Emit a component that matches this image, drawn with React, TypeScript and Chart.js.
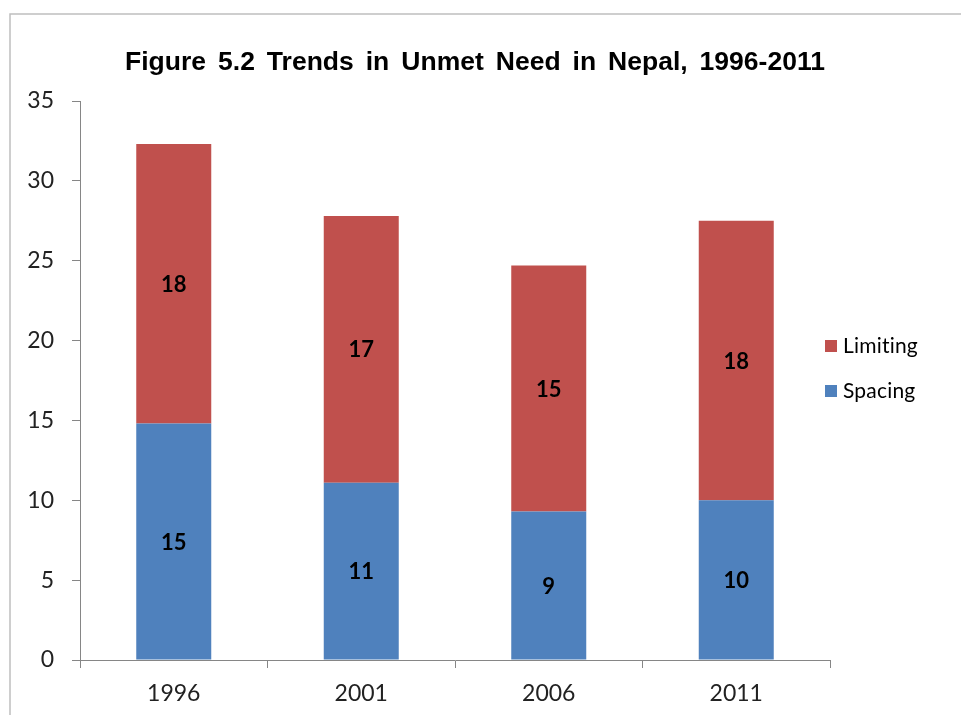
import React, { useEffect, useRef } from "react";
import { Chart, registerables } from "chart.js";

Chart.register(...registerables);

const categories = ["1996", "2001", "2006", "2011"];
const spacing = [14.8, 11.1, 9.3, 10.0];
const limiting = [17.5, 16.7, 15.4, 17.5];
const yTicks = [0, 5, 10, 15, 20, 25, 30, 35];
const titleText = "Figure 5.2 Trends in Unmet Need in Nepal, 1996-2011";

const BLUE = "#4F81BD";
const RED = "#C0504D";
const AXIS = "#868686";
const TICK_FONT = "Lato, 'Open Sans', sans-serif";

const decorPlugin = {
  id: "decor",
  beforeDraw(chart: any) {
    const ctx = chart.ctx;
    ctx.save();
    ctx.fillStyle = "#ffffff";
    ctx.fillRect(0, 0, chart.width, chart.height);
    ctx.strokeStyle = "#BFBFBF";
    ctx.lineWidth = 1.5;
    ctx.beginPath();
    ctx.moveTo(10, chart.height);
    ctx.lineTo(10, 14);
    ctx.lineTo(chart.width, 14);
    ctx.stroke();
    ctx.restore();
  },
  afterDraw(chart: any) {
    const ctx = chart.ctx;
    ctx.save();
    // title
    ctx.fillStyle = "#000";
    ctx.font = "bold 26px 'Liberation Sans', Arial, sans-serif";
    ctx.textAlign = "left";
    ctx.textBaseline = "middle";
    const sx = 1.02;
    const targetW = 700 / sx;
    const w0 = ctx.measureText(titleText).width;
    const gaps = titleText.split(" ").length - 1;
    const extra = Math.max(0, (targetW - w0) / gaps);
    (ctx as any).wordSpacing = extra.toFixed(2) + "px";
    const w1 = ctx.measureText(titleText).width;
    ctx.save();
    ctx.translate(475 - (w1 * sx) / 2, 63);
    ctx.scale(sx, 1);
    ctx.fillText(titleText, 0, 0);
    ctx.restore();
    (ctx as any).wordSpacing = "0px";
    // legend
    const items = [
      { label: chart.data.datasets[1].label, color: RED, y: 346 },
      { label: chart.data.datasets[0].label, color: BLUE, y: 391 },
    ];
    ctx.font = "21px " + TICK_FONT;
    ctx.textAlign = "left";
    (ctx as any).letterSpacing = "0.2px";
    items.forEach((it) => {
      ctx.fillStyle = it.color;
      ctx.fillRect(825, it.y - 6, 12, 12);
      ctx.fillStyle = "#000";
      ctx.fillText(it.label, 843, it.y);
    });
    ctx.restore();
  },
  afterDatasetsDraw(chart: any) {
    const ctx = chart.ctx;
    ctx.save();
    ctx.fillStyle = "#000";
    ctx.font = "bold 22px " + TICK_FONT;
    ctx.textAlign = "center";
    ctx.textBaseline = "middle";
    chart.data.datasets.forEach((ds: any, di: number) => {
      const meta = chart.getDatasetMeta(di);
      meta.data.forEach((el: any, i: number) => {
        const cy = (el.y + el.base) / 2;
        ctx.fillText(String(Math.round(ds.data[i])), el.x, cy + 1);
      });
    });
    ctx.restore();
  },
};

export default function App() {
  const ref = useRef<HTMLCanvasElement>(null);
  useEffect(() => {
    if (!ref.current) return;
    const chart = new Chart(ref.current, {
      type: "bar",
      data: {
        labels: categories,
        datasets: [
          { label: "Spacing", data: spacing, backgroundColor: BLUE, barPercentage: 0.4, categoryPercentage: 1 },
          { label: "Limiting", data: limiting, backgroundColor: RED, barPercentage: 0.4, categoryPercentage: 1 },
        ],
      },
      options: {
        responsive: false,
        animation: false,
        layout: { padding: { top: 101, right: 131, left: 0, bottom: 0 } },
        plugins: {
          legend: { display: false },
          title: { display: false },
          tooltip: { enabled: false },
        },
        scales: {
          x: {
            stacked: true,
            grid: { display: true, drawOnChartArea: false, drawTicks: true, tickLength: 8, color: AXIS, offset: true },
            border: { display: true, color: AXIS, width: 1 },
            ticks: { color: "#222", font: { family: TICK_FONT, size: 23 }, padding: 12 },
            afterFit: (s: any) => { s.height = 55; },
          },
          y: {
            stacked: true,
            min: 0,
            max: 35,
            afterBuildTicks: (s: any) => { s.ticks = yTicks.map((v) => ({ value: v })); },
            grid: { display: true, drawOnChartArea: false, drawTicks: true, tickLength: 8, color: AXIS },
            border: { display: true, color: AXIS, width: 1 },
            ticks: { color: "#222", font: { family: TICK_FONT, size: 23 }, padding: 18 },
            afterFit: (s: any) => { s.width = 80; },
          },
        },
      },
      plugins: [decorPlugin],
    });
    return () => chart.destroy();
  }, []);
  return (
    <div style={{ position: "absolute", left: 0, top: 0, width: 961, height: 715, background: "#fff" }}>
      <canvas ref={ref} width={961} height={715} style={{ display: "block" }} />
    </div>
  );
}
